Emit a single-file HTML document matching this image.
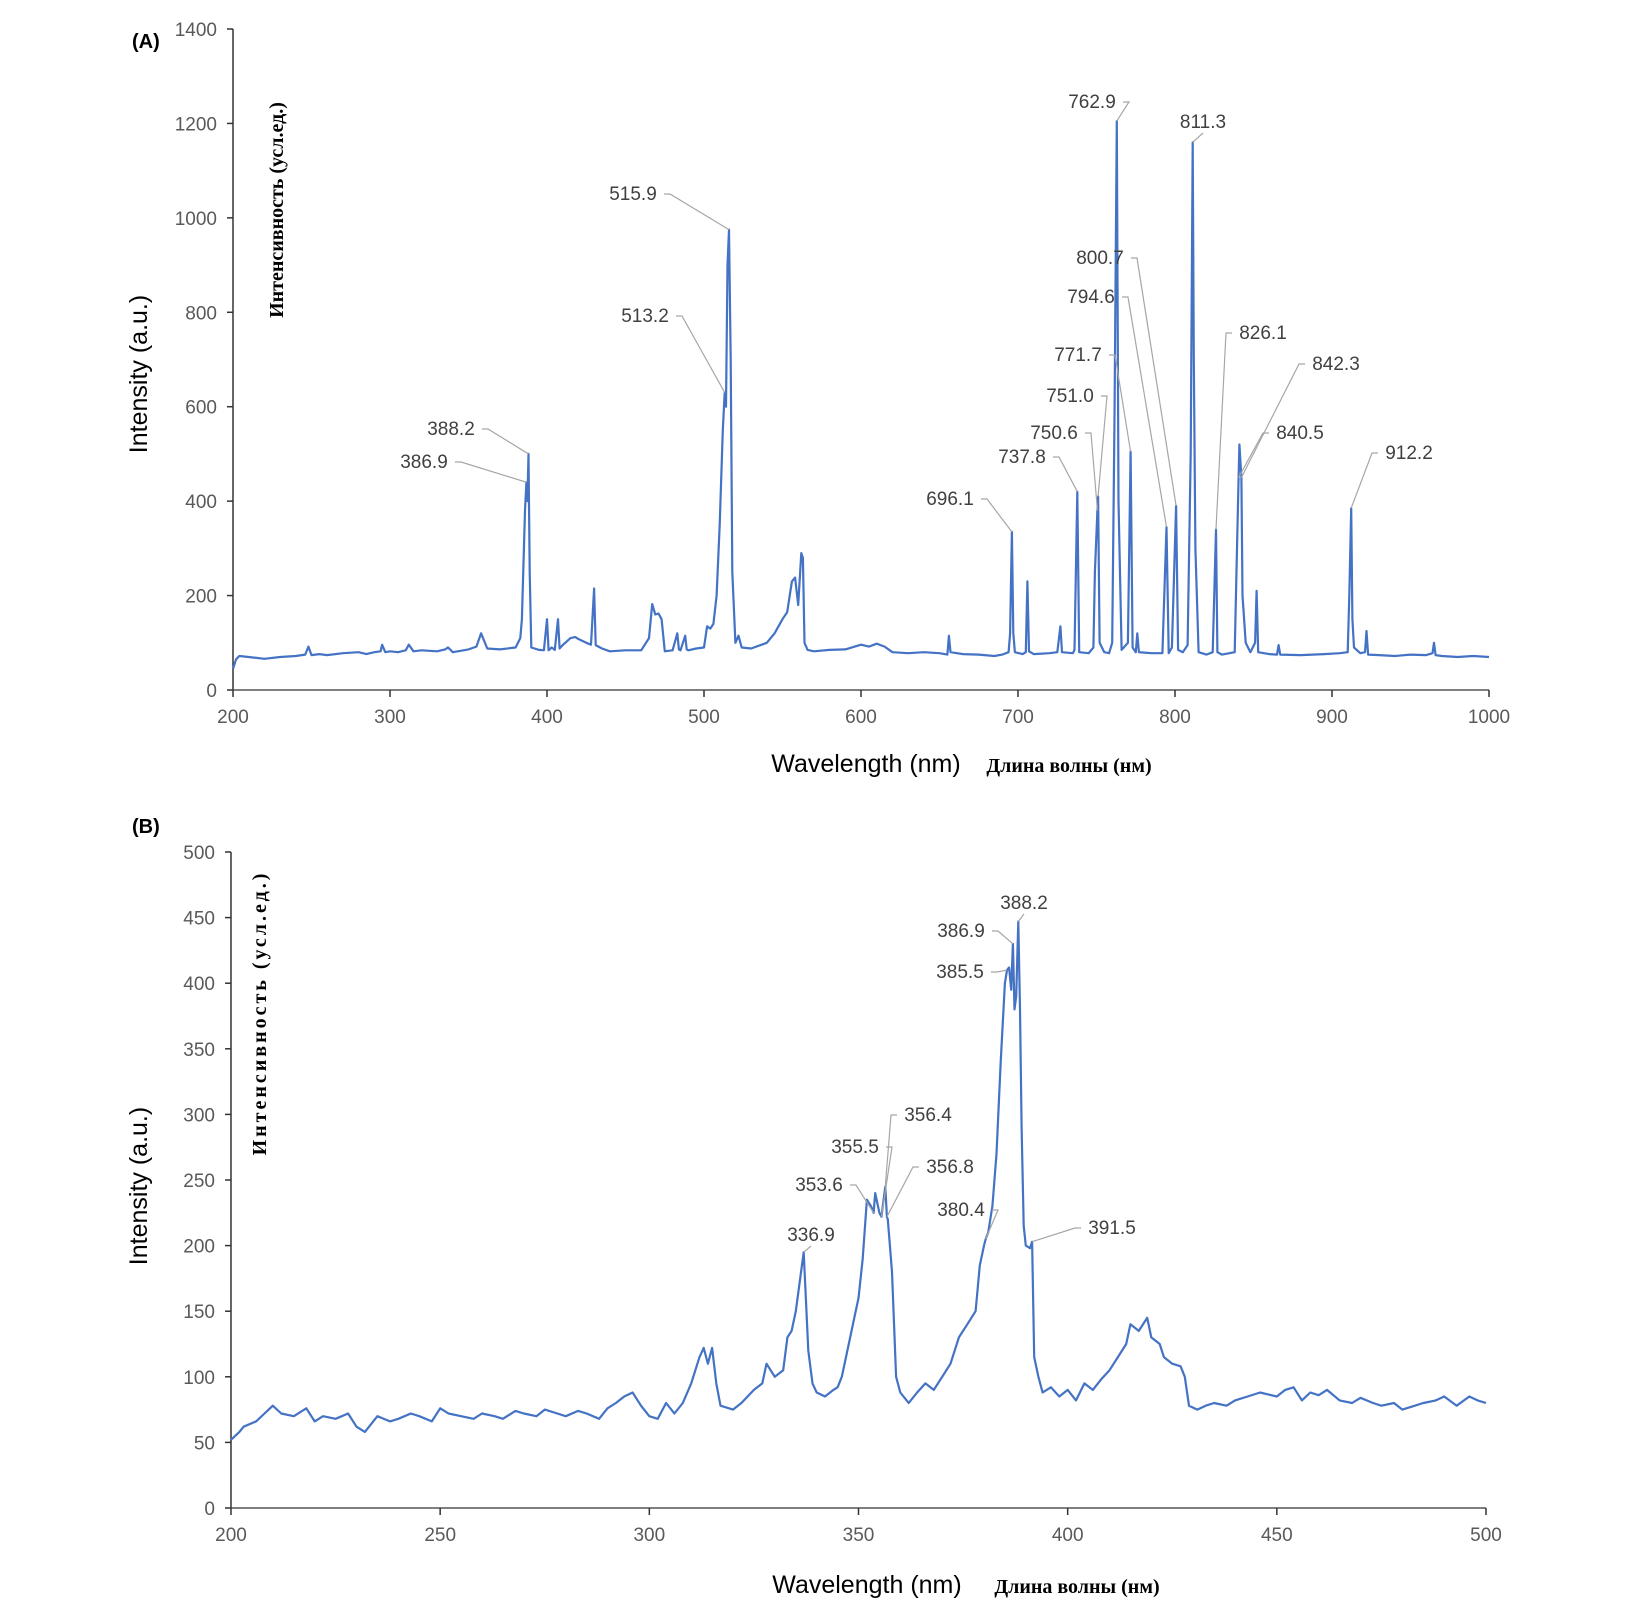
<!DOCTYPE html>
<html><head><meta charset="utf-8"><style>
body{margin:0;background:#fff;}
svg{display:block;font-family:"Liberation Sans",sans-serif;}
</style></head><body>
<svg id="chart" width="1643" height="1603" xmlns="http://www.w3.org/2000/svg"></svg>
<script>
// ---- Panel A data: [wavelength, intensity] ----
const aSpectrum = [[200,45],[202,65],[204,72],[210,70],[215,68],[220,66],[230,70],[240,72],[246,75],[248,92],[250,74],[255,76],[260,74],[270,78],[280,80],[285,76],[290,80],[294,82],[295,96],[297,80],[300,82],[305,80],[310,84],[312,96],[315,82],[320,84],[330,82],[335,86],[337,90],[340,80],[350,86],[355,92],[358,120],[362,88],[370,86],[380,90],[383,110],[384,150],[386,380],[386.9,440],[387.5,400],[388.2,500],[389,250],[390,90],[395,85],[398,84],[400,150],[401,84],[403,90],[405,85],[407,150],[408,88],[410,95],[415,110],[418,112],[420,108],[425,100],[428,96],[430,215],[431,95],[435,88],[440,82],[450,84],[460,84],[465,110],[467,182],[469,160],[471,162],[473,150],[475,82],[480,84],[483,120],[484,86],[485,84],[488,115],[489,86],[490,84],[495,88],[500,90],[502,135],[504,130],[506,140],[508,200],[510,350],[512,550],[513.2,630],[514,600],[515,900],[515.9,975],[517,700],[518,250],[520,100],[522,115],[524,90],[530,88],[540,100],[545,120],[550,150],[553,165],[556,230],[558,238],[560,180],[562,290],[563,280],[564,100],[566,85],[570,82],[580,85],[590,86],[600,96],[605,92],[610,98],[615,92],[620,80],[630,78],[640,80],[650,78],[655,75],[656,115],[657,80],[665,76],[675,75],[685,72],[690,75],[694,80],[695,120],[696.1,335],[697,120],[698,80],[703,76],[705,80],[706,230],[707,82],[710,76],[720,78],[725,80],[727,135],[728,80],[735,78],[736,85],[737.8,420],[739,80],[745,78],[748,90],[749,250],[750.6,380],[751,410],[752,100],[755,80],[758,78],[760,100],[761.5,600],[762.9,1205],[764,400],[766,85],[770,100],[771.7,505],[773,90],[775,80],[776,120],[777,80],[785,78],[792,78],[794.6,345],[796,78],[798,90],[800.7,390],[802,85],[805,80],[808,95],[810,500],[811.3,1160],[812,700],[813,300],[815,80],[820,75],[824,80],[826.1,340],[827,80],[830,75],[838,80],[839.5,300],[840.5,450],[841,520],[842.3,450],[843,200],[845,100],[848,80],[851,100],[852,210],[853,80],[860,76],[865,75],[866,95],[867,75],[880,74],[895,76],[905,78],[910,80],[911,200],[912.2,385],[913,150],[914,90],[918,78],[921,80],[922,125],[923,75],[930,74],[940,72],[950,75],[960,74],[964,78],[965,100],[966,74],[970,72],[980,70],[990,72],[1000,70]];
const aTicksX = [200,300,400,500,600,700,800,900,1000];
const aTicksY = [0,200,400,600,800,1000,1200,1400];
const aLabelWave = [762.9,811.3,515.9,513.2,388.2,386.9,800.7,794.6,771.7,751.0,750.6,737.8,696.1,826.1,842.3,840.5,912.2];
const aLabelText = ["762.9","811.3","515.9","513.2","388.2","386.9","800.7","794.6","771.7","751.0","750.6","737.8","696.1","826.1","842.3","840.5","912.2"];
// ---- Panel B data: [wavelength, intensity] ----
const bSpectrum = [[200,52],[202,58],[203,62],[206,66],[208,72],[210,78],[212,72],[215,70],[218,76],[220,66],[222,70],[225,68],[228,72],[230,62],[232,58],[235,70],[238,66],[240,68],[243,72],[245,70],[248,66],[250,76],[252,72],[255,70],[258,68],[260,72],[263,70],[265,68],[268,74],[270,72],[273,70],[275,75],[278,72],[280,70],[283,74],[285,72],[288,68],[290,76],[292,80],[294,85],[296,88],[298,78],[300,70],[302,68],[304,80],[306,72],[308,80],[310,95],[312,115],[313,122],[314,110],[315,122],[316,95],[317,78],[320,75],[322,80],[325,90],[327,95],[328,110],[330,100],[332,105],[333,130],[334,135],[335,150],[336.9,195],[338,120],[339,95],[340,88],[342,85],[344,90],[345,92],[346,100],[347,115],[349,145],[350,160],[351,190],[352,235],[353,230],[353.6,225],[354,240],[355,225],[355.5,222],[356,235],[356.4,245],[356.8,222],[357,220],[358,180],[359,100],[360,88],[362,80],[364,88],[366,95],[368,90],[370,100],[372,110],[374,130],[376,140],[378,150],[379,185],[380,200],[380.4,205],[381,210],[382,230],[383,270],[384,340],[385,400],[385.5,410],[386,412],[386.5,395],[386.9,430],[387.3,380],[387.7,390],[388.2,447],[388.6,380],[389,290],[389.5,215],[390,200],[391,198],[391.5,203],[392,115],[393,100],[394,88],[396,92],[398,85],[400,90],[402,82],[404,95],[406,90],[408,98],[410,105],[412,115],[414,125],[415,140],[417,135],[419,145],[420,130],[422,125],[423,115],[425,110],[427,108],[428,100],[429,78],[431,75],[433,78],[435,80],[438,78],[440,82],[443,85],[446,88],[450,85],[452,90],[454,92],[456,82],[458,88],[460,86],[462,90],[465,82],[468,80],[470,84],[473,80],[475,78],[478,80],[480,75],[483,78],[485,80],[488,82],[490,85],[493,78],[496,85],[498,82],[500,80]];
const bTicksX = [200,250,300,350,400,450,500];
const bTicksY = [0,50,100,150,200,250,300,350,400,450,500];
const bLabelWave = [388.2,386.9,385.5,356.4,355.5,353.6,356.8,380.4,336.9,391.5];
const bLabelText = ["388.2","386.9","385.5","356.4","355.5","353.6","356.8","380.4","336.9","391.5"];

const NS="http://www.w3.org/2000/svg";
const svg=document.getElementById('chart');
function mk(tag,attrs,parent){const e=document.createElementNS(NS,tag);for(const k in attrs)e.setAttribute(k,attrs[k]);(parent||svg).appendChild(e);return e;}
function interp(pts,w){for(let i=0;i<pts.length-1;i++){const a=pts[i],b=pts[i+1];if(w>=a[0]&&w<=b[0]){const t=(w-a[0])/((b[0]-a[0])||1);return a[1]+t*(b[1]-a[1]);}}return pts[pts.length-1][1];}

function panel(cfg){
  const g=mk('g',{});
  
  
  const X=v=>cfg.x0+(v-cfg.xmin)/(cfg.xmax-cfg.xmin)*(cfg.x1-cfg.x0);
  const Y=v=>cfg.y0-(v-cfg.ymin)/(cfg.ymax-cfg.ymin)*(cfg.y0-cfg.y1);
  const ya=mk('line',{x1:cfg.x0,y1:cfg.y1,x2:cfg.x0,y2:cfg.y0,stroke:'#333','stroke-width':1.5},g);
  
  
  const xa=mk('line',{x1:cfg.x0,y1:cfg.y0,x2:cfg.x1,y2:cfg.y0,stroke:'#555','stroke-width':1.5},g);
  
  
  cfg.ty.forEach(v=>{
    mk('line',{x1:cfg.x0-6,y1:Y(v),x2:cfg.x0,y2:Y(v),stroke:'#333','stroke-width':1.5},g);
    const t=mk('text',{x:cfg.x0-16,y:Y(v)+7,'text-anchor':'end','font-size':19,fill:'#595959'},g);
    t.textContent=v;
    
    
  });
  cfg.tx.forEach(v=>{
    mk('line',{x1:X(v),y1:cfg.y0,x2:X(v),y2:cfg.y0+7,stroke:'#333','stroke-width':1.5},g);
    const t=mk('text',{x:X(v),y:cfg.y0+33,'text-anchor':'middle','font-size':19,fill:'#595959'},g);
    t.textContent=v;
    
    
  });
  let d='';cfg.pts.forEach((p,i)=>{d+=(i?'L':'M')+X(p[0]).toFixed(1)+','+Y(p[1]).toFixed(1);});
  const p=mk('path',{d:d,fill:'none',stroke:'#4472C4','stroke-width':2.2,'stroke-linejoin':'round'},g);
  
  
  cfg.lw.forEach((w,i)=>{
    const px=X(w),py=Y(interp(cfg.pts,w));
    const [lx,ly]=cfg.lpos[i];
    const txt=cfg.lt[i];
    const half=txt.length*5.6;
    let pts;
    if(Math.abs(lx-px)<14){pts=`${lx},${ly+5} ${px},${py}`;}
    else if(lx<px){const sx=lx+half+3;pts=`${sx},${ly-6} ${sx+6},${ly-6} ${px},${py}`;}
    else{const sx=lx-half-3;pts=`${sx},${ly-6} ${sx-6},${ly-6} ${px},${py}`;}
    mk('polyline',{points:pts,fill:'none',stroke:'#a6a6a6','stroke-width':1.2},g);
    const t=mk('text',{x:lx,y:ly,'text-anchor':'middle','font-size':19,fill:'#404040'},g);
    t.textContent=txt;
    
    
  });
  return g;
}
const aPos=[[1092,108],[1203,128],[633,200],[645,322],[451,435],[424,468],[1100,264],[1091,303],[1078,361],[1070,402],[1054,439],[1022,463],[950,505],[1263,339],[1336,370],[1300,439],[1409,459]];
const bPos=[[1024,909],[961,937],[960,978],[928,1121],[855,1153],[819,1191],[950,1173],[961,1216],[811,1241],[1112,1234]];
panel({name:'panel-a-chart',x0:233,x1:1489,y0:690,y1:29,xmin:200,xmax:1000,ymin:0,ymax:1400,tx:aTicksX,ty:aTicksY,pts:aSpectrum,lw:aLabelWave,lt:aLabelText,lpos:aPos});
panel({name:'panel-b-chart',x0:231,x1:1486,y0:1508,y1:852,xmin:200,xmax:500,ymin:0,ymax:500,tx:bTicksX,ty:bTicksY,pts:bSpectrum,lw:bLabelWave,lt:bLabelText,lpos:bPos});
</script>
<svg style="position:absolute;left:0;top:0" width="1643" height="1603" xmlns="http://www.w3.org/2000/svg">
<text x="132" y="48" font-family="Liberation Sans,sans-serif" font-weight="bold" font-size="20">(A)</text>
<text x="132" y="833" font-family="Liberation Sans,sans-serif" font-weight="bold" font-size="20">(B)</text>
<text transform="translate(147,374) rotate(-90)" text-anchor="middle" font-family="Liberation Sans,sans-serif" font-size="25">Intensity (a.u.)</text>
<text transform="translate(283,210) rotate(-90)" text-anchor="middle" font-family="Liberation Serif,serif" font-weight="bold" font-size="20">Интенсивность (усл.ед.)</text>
<text x="866" y="772" text-anchor="middle" font-family="Liberation Sans,sans-serif" font-size="25">Wavelength (nm)</text>
<text x="1069" y="772" text-anchor="middle" font-family="Liberation Serif,serif" font-weight="bold" font-size="20">Длина волны (нм)</text>
<text transform="translate(147,1186) rotate(-90)" text-anchor="middle" font-family="Liberation Sans,sans-serif" font-size="25">Intensity (a.u.)</text>
<text transform="translate(266,1013) rotate(-90)" text-anchor="middle" font-family="Liberation Serif,serif" font-weight="bold" font-size="20" letter-spacing="3">Интенсивность (усл.ед.)</text>
<text x="867" y="1593" text-anchor="middle" font-family="Liberation Sans,sans-serif" font-size="25">Wavelength (nm)</text>
<text x="1077" y="1593" text-anchor="middle" font-family="Liberation Serif,serif" font-weight="bold" font-size="20">Длина волны (нм)</text>
</svg>
</body></html>
